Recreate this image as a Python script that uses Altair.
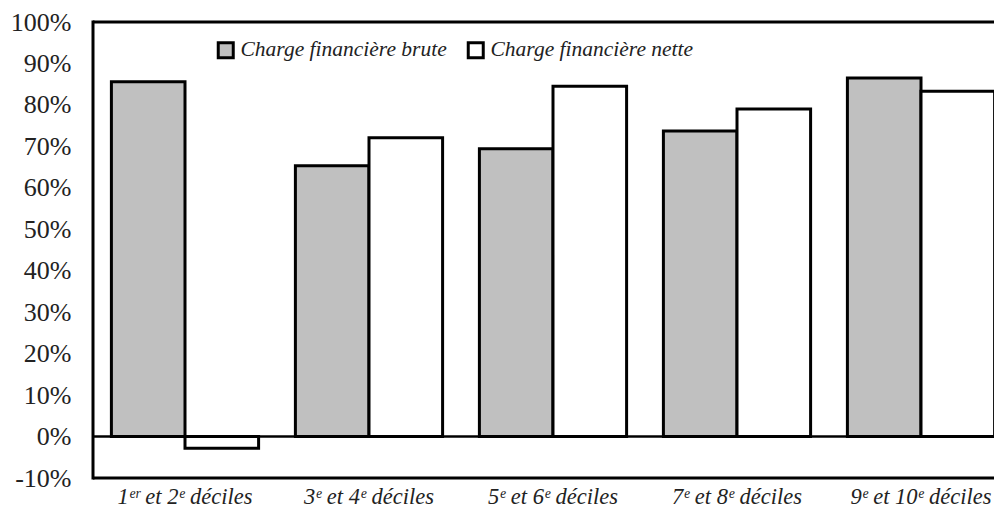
import altair as alt
import pandas as pd

categories = ["1ᵉʳ et 2ᵉ déciles", "3ᵉ et 4ᵉ déciles", "5ᵉ et 6ᵉ déciles",
              "7ᵉ et 8ᵉ déciles", "9ᵉ et 10ᵉ déciles"]
series = ["Charge financière brute", "Charge financière nette"]
brute = [85.6, 65.3, 69.4, 73.7, 86.5]
nette = [-2.8, 72.1, 84.5, 79.0, 83.3]
y_ticks = [-10, 0, 10, 20, 30, 40, 50, 60, 70, 80, 90, 100]

rows = []
for c, b, n in zip(categories, brute, nette):
    rows.append({"cat": c, "serie": series[0], "val": b})
    rows.append({"cat": c, "serie": series[1], "val": n})
df = pd.DataFrame(rows)

serif = "Liberation Serif"
PLOT_W = 920

bars = alt.Chart(df).mark_bar(stroke="black", strokeWidth=3, strokeJoin="miter").encode(
    x=alt.X("cat:N", sort=categories, title=None,
            scale=alt.Scale(paddingInner=0.2, paddingOuter=0.1, range=[0, PLOT_W]),
            axis=alt.Axis(labelAngle=0, ticks=False, domain=False, labelPadding=7,
                          labelFont=serif, labelFontStyle="italic", labelFontSize=22.5,
                          labelColor="#222", labelLimit=300)),
    xOffset=alt.XOffset("serie:N", sort=series, scale=alt.Scale(paddingInner=0, paddingOuter=0)),
    y=alt.Y("val:Q", title=None,
            scale=alt.Scale(domain=[-10, 100], nice=False, zero=False),
            axis=alt.Axis(values=y_ticks, labelExpr="datum.value + '%'", ticks=False,
                          domain=False, grid=False, labelPadding=22,
                          labelFont=serif, labelFontSize=26, labelColor="#222")),
    fill=alt.Fill("serie:N", sort=series, title=None,
                  scale=alt.Scale(domain=series, range=["#C0C0C0", "#FFFFFF"]),
                  legend=alt.Legend(orient="none", legendX=122, legendY=17,
                                    direction="horizontal", symbolType="square",
                                    symbolSize=225, symbolStrokeColor="black",
                                    symbolStrokeWidth=3, labelFont=serif,
                                    labelFontStyle="italic", labelFontSize=21.5,
                                    labelColor="#222", labelOffset=4,
                                    columnPadding=15, labelLimit=400)),
)

zero = alt.Chart(pd.DataFrame({"v": [0]})).mark_rule(color="black", strokeWidth=2.5).encode(
    y=alt.Y("v:Q")
)

# frame: left, top, bottom (right edge lies beyond the visible area)
frame_top = alt.Chart(pd.DataFrame({"v": [100]})).mark_rule(color="black", strokeWidth=3).encode(
    y=alt.Y("v:Q"), x=alt.value(0), x2=alt.value(PLOT_W))
frame_bot = alt.Chart(pd.DataFrame({"v": [-10]})).mark_rule(color="black", strokeWidth=3).encode(
    y=alt.Y("v:Q"), x=alt.value(0), x2=alt.value(PLOT_W))
frame_left = alt.Chart(pd.DataFrame({"v": [0]})).mark_rule(color="black", strokeWidth=3).encode(
    x=alt.value(0), y=alt.value(-1.5), y2=alt.value(457.5))

chart = alt.layer(bars, zero, frame_top, frame_bot, frame_left).properties(
    width=901, height=456,
    autosize=alt.AutoSizeParams(type="none"),
    padding={"left": 85, "top": 14, "right": 0, "bottom": 36},
    background="white",
).configure_view(strokeWidth=0)

chart.save("out.html", embed_options={"renderer": "svg", "actions": False})
